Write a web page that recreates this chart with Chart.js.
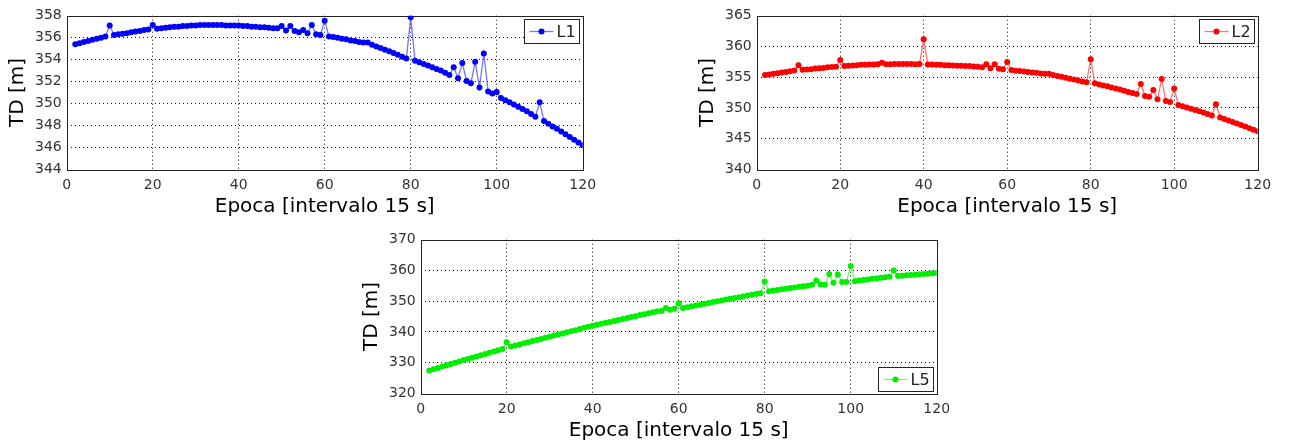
<!DOCTYPE html>
<html>
<head>
<meta charset="utf-8">
<script src="https://cdn.jsdelivr.net/npm/chart.js@4"></script>
<style>
  html, body { margin: 0; padding: 0; background: #fff; overflow: hidden; }
  body { width: 1295px; height: 443px; position: relative; }
  canvas { position: absolute; }
</style>
</head>
<body>
<canvas id="chartL1" width="620" height="222" style="left:0px;top:0px"></canvas>
<canvas id="chartL2" width="605" height="222" style="left:690px;top:0px"></canvas>
<canvas id="chartL5" width="620" height="222" style="left:354px;top:223.5px"></canvas>
<script>
// Epochs (x axis)
const epoche = [
  2, 3, 4, 5, 6, 7, 8, 9, 10, 11,
  12, 13, 14, 15, 16, 17, 18, 19, 20, 21,
  22, 23, 24, 25, 26, 27, 28, 29, 30, 31,
  32, 33, 34, 35, 36, 37, 38, 39, 40, 41,
  42, 43, 44, 45, 46, 47, 48, 49, 50, 51,
  52, 53, 54, 55, 56, 57, 58, 59, 60, 61,
  62, 63, 64, 65, 66, 67, 68, 69, 70, 71,
  72, 73, 74, 75, 76, 77, 78, 79, 80, 81,
  82, 83, 84, 85, 86, 87, 88, 89, 90, 91,
  92, 93, 94, 95, 96, 97, 98, 99, 100, 101,
  102, 103, 104, 105, 106, 107, 108, 109, 110, 111,
  112, 113, 114, 115, 116, 117, 118, 119, 120
];

// TD [m] for each frequency
const valoriL1 = [
  355.4, 355.5, 355.6, 355.7, 355.8, 355.9, 356.0, 356.1, 357.1, 356.25,
  356.3, 356.35, 356.4, 356.5, 356.55, 356.6, 356.7, 356.75, 357.15, 356.8,
  356.85, 356.9, 356.95, 357.0, 357.0, 357.05, 357.05, 357.1, 357.1, 357.15,
  357.15, 357.15, 357.15, 357.15, 357.15, 357.1, 357.1, 357.1, 357.1, 357.05,
  357.05, 357.0, 357.0, 356.95, 356.95, 356.9, 356.85, 356.85, 357.05, 356.65,
  357.05, 356.6, 356.5, 356.7, 356.4, 357.15, 356.3, 356.25, 357.55, 356.1,
  356.05, 356.0, 355.9, 355.85, 355.75, 355.7, 355.6, 355.55, 355.55, 355.35,
  355.2, 355.05, 354.9, 354.75, 354.6, 354.45, 354.25, 354.1, 357.85, 353.9,
  353.75, 353.6, 353.45, 353.3, 353.15, 353.0, 352.8, 352.6, 353.3, 352.3,
  353.7, 352.05, 351.85, 353.8, 351.45, 354.55, 351.1, 350.9, 351.05, 350.5,
  350.3, 350.1, 349.9, 349.7, 349.5, 349.3, 349.05, 348.8, 350.1, 348.4,
  348.15, 347.9, 347.7, 347.45, 347.2, 346.95, 346.7, 346.45, 346.2
];

const valoriL2 = [
  355.35, 355.45, 355.55, 355.65, 355.75, 355.85, 355.95, 356.1, 356.95, 356.2,
  356.25, 356.3, 356.4, 356.45, 356.5, 356.6, 356.65, 356.7, 357.8, 356.8,
  356.85, 356.9, 356.95, 357.0, 357.0, 357.05, 357.05, 357.1, 357.35, 357.1,
  357.1, 357.15, 357.15, 357.15, 357.15, 357.15, 357.1, 357.15, 361.15, 357.05,
  357.05, 357.0, 357.0, 356.95, 356.95, 356.9, 356.85, 356.85, 356.8, 356.8,
  356.75, 356.7, 356.6, 357.1, 356.45, 357.1, 356.35, 356.3, 357.45, 356.15,
  356.05, 356.0, 355.9, 355.85, 355.75, 355.7, 355.6, 355.55, 355.55, 355.35,
  355.2, 355.05, 354.9, 354.75, 354.6, 354.45, 354.3, 354.15, 357.9, 354.0,
  353.8, 353.65, 353.5, 353.3, 353.15, 353.0, 352.8, 352.6, 352.4, 352.25,
  353.9, 351.95, 351.8, 352.9, 351.4, 354.7, 351.1, 350.95, 353.15, 350.45,
  350.25, 350.05, 349.85, 349.65, 349.45, 349.25, 349.0, 348.75, 350.6, 348.45,
  348.2, 347.95, 347.7, 347.45, 347.2, 346.95, 346.7, 346.45, 346.2
];

const valoriL5 = [
  327.4, 327.85, 328.25, 328.7, 329.1, 329.55, 329.95, 330.35, 330.8, 331.2,
  331.6, 332.0, 332.4, 332.8, 333.2, 333.6, 334.0, 334.4, 336.6, 335.2,
  335.55, 335.9, 336.3, 336.65, 337.0, 337.35, 337.7, 338.05, 338.4, 338.8,
  339.15, 339.5, 339.85, 340.2, 340.55, 340.9, 341.3, 341.65, 342.0, 342.3,
  342.65, 342.95, 343.25, 343.55, 343.9, 344.2, 344.5, 344.8, 345.1, 345.45,
  345.75, 346.05, 346.4, 346.7, 346.75, 347.8, 347.2, 347.5, 349.3, 347.8,
  348.05, 348.35, 348.6, 348.85, 349.15, 349.4, 349.7, 349.95, 350.2, 350.5,
  350.75, 351.0, 351.3, 351.55, 351.8, 352.1, 352.35, 352.6, 356.4, 353.25,
  353.45, 353.65, 353.85, 354.05, 354.25, 354.45, 354.65, 354.85, 355.05, 355.3,
  356.7, 355.4, 355.35, 358.8, 355.95, 358.7, 356.25, 356.25, 361.4, 356.5,
  356.7, 356.9, 357.05, 357.25, 357.4, 357.6, 357.75, 357.9, 360.0, 358.15,
  358.25, 358.4, 358.5, 358.6, 358.75, 358.85, 358.95, 359.1, 359.2
];

// Tick labels
const tickX = [0, 20, 40, 60, 80, 100, 120];
const tickY1 = [344, 346, 348, 350, 352, 354, 356, 358];
const tickY2 = [340, 345, 350, 355, 360, 365];
const tickY5 = [320, 330, 340, 350, 360, 370];

const FONT = 'DejaVu Sans';

// frame around plot area + boxed legend like the original figure
const framePlugin = {
  id: 'frameLegend',
  beforeDatasetsDraw(chart) {
    const { ctx, chartArea: a } = chart;
    ctx.save();
    ctx.strokeStyle = '#222';
    ctx.lineWidth = 1;
    ctx.strokeRect(Math.round(a.left) + 0.5, Math.round(a.top) + 0.5,
      Math.round(a.right - a.left), Math.round(a.bottom - a.top));
    ctx.restore();
  },
  afterDraw(chart, args, opts) {
    const { ctx, chartArea: a } = chart;
    const w = 55, h = 24;
    const x = Math.round(a.right - 4 - w) + 0.5;
    const y = opts.corner === 'bottom'
      ? Math.round(a.bottom - 2 - h) + 0.5
      : Math.round(a.top + 3.5) + 0.5;
    ctx.save();
    ctx.fillStyle = '#fff';
    ctx.fillRect(x, y, w, h);
    ctx.strokeStyle = '#222';
    ctx.lineWidth = 1;
    ctx.strokeRect(x, y, w, h);
    const my = y + h / 2;
    ctx.strokeStyle = opts.lineColor;
    ctx.lineWidth = 1.3;
    ctx.beginPath();
    ctx.moveTo(x + 5, my);
    ctx.lineTo(x + 29, my);
    ctx.stroke();
    ctx.fillStyle = opts.color;
    ctx.beginPath();
    ctx.arc(x + 17, my, 3, 0, Math.PI * 2);
    ctx.fill();
    ctx.fillStyle = '#222';
    ctx.font = '16px "' + FONT + '"';
    ctx.textBaseline = 'middle';
    ctx.textAlign = 'left';
    ctx.fillText(opts.label, x + 32, my + 1);
    ctx.restore();
  }
};

function makeChart(id, values, color, lineColor, yTicks, label, corner) {
  const points = epoche.map((e, i) => ({ x: e, y: values[i] }));
  const hideEdges = c => (c.index === 0 || c.index === c.chart.scales[c.scale.id].ticks.length - 1)
    ? 'rgba(0,0,0,0)' : '#111';
  return new Chart(document.getElementById(id), {
    type: 'line',
    data: {
      datasets: [{
        label: label,
        data: points,
        borderColor: lineColor,
        borderWidth: 1.3,
        pointRadius: 3,
        pointBorderWidth: 0,
        pointBackgroundColor: color,
        tension: 0,
        fill: false
      }]
    },
    options: {
      responsive: false,
      animation: false,
      devicePixelRatio: 1,
      layout: { padding: { top: 15.7, right: 37.3, left: 0, bottom: 0 } },
      plugins: {
        legend: { display: false },
        tooltip: { enabled: false },
        frameLegend: { label: label, color: color, lineColor: lineColor, corner: corner }
      },
      scales: {
        x: {
          type: 'linear',
          min: tickX[0],
          max: tickX[tickX.length - 1],
          afterBuildTicks: s => { s.ticks = tickX.map(v => ({ value: v })); },
          afterFit: s => { s.height = 52.7; },
          grid: { color: c => hideEdges(c), lineWidth: 1, drawTicks: false },
          border: { display: false, dash: [1, 3] },
          ticks: { padding: 8, color: '#333', font: { family: FONT, size: 14 } },
          title: {
            display: true,
            text: 'Epoca [intervalo 15 s]',
            color: '#000',
            font: { family: FONT, size: 20 },
            padding: { top: 0, bottom: 3 }
          }
        },
        y: {
          min: yTicks[0],
          max: yTicks[yTicks.length - 1],
          afterBuildTicks: s => { s.ticks = yTicks.map(v => ({ value: v })); },
          afterFit: s => { s.width = 66.7; },
          grid: { color: c => hideEdges(c), lineWidth: 1, drawTicks: false },
          border: { display: false, dash: [1, 3] },
          ticks: { padding: 5, color: '#333', font: { family: FONT, size: 14 } },
          title: {
            display: true,
            text: 'TD [m]',
            color: '#000',
            font: { family: FONT, size: 20 },
            padding: { top: 6, bottom: 0 }
          }
        }
      }
    },
    plugins: [framePlugin]
  });
}

makeChart('chartL1', valoriL1, '#0000ff', 'rgba(70,70,255,0.75)', tickY1, 'L1', 'top');
makeChart('chartL2', valoriL2, '#ff0000', 'rgba(255,70,70,0.75)', tickY2, 'L2', 'top');
makeChart('chartL5', valoriL5, '#00ee00', 'rgba(70,240,70,0.75)', tickY5, 'L5', 'bottom');
</script>
</body>
</html>
